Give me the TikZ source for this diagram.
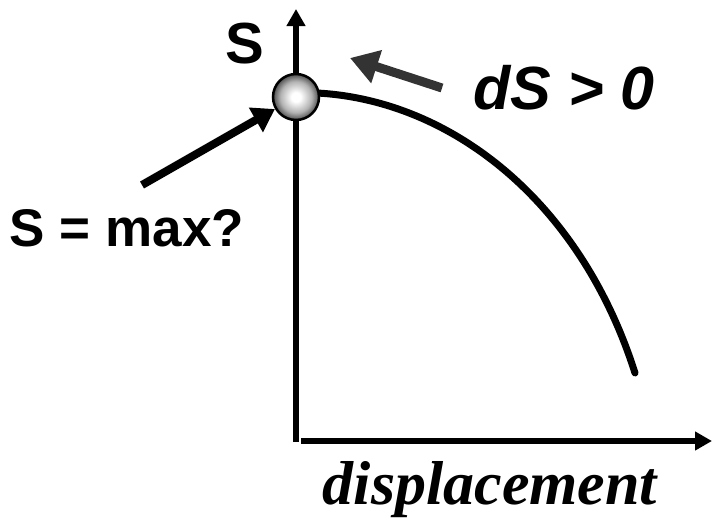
\documentclass[tikz,border=0pt]{standalone}
\usepackage{fontspec}
\setmainfont{Liberation Serif}
\setsansfont{Liberation Sans}
\usetikzlibrary{arrows.meta, positioning}
\definecolor{pushGray}{HTML}{333333}
\pgfdeclareradialshading{bead}{\pgfpoint{0bp}{0bp}}{color(0bp)=(white); color(5bp)=(white);
  color(17bp)=(gray!60); color(25bp)=(black!70); color(50bp)=(black!70)}

\begin{document}
\begin{tikzpicture}[
    x=1pt, y=-1pt,
    axis/.style={line width=5.5pt, -{Triangle[length=17pt, width=18pt]}},
    curve/.style={line width=7pt, line cap=round},
    pointer/.style={line width=8pt, -{Triangle[length=22pt, width=27pt]}},
    push/.style={draw=pushGray, line width=9pt, -{Triangle[length=28pt, width=33pt]}, color=pushGray},
    bead/.style={circle, draw, line width=2.5pt, minimum size=46pt, inner sep=0pt,
                 shading=bead},
    label/.style={font=\sffamily\bfseries\fontsize{53}{58}\selectfont, inner sep=0pt},
    dlabel/.style={font=\sffamily\bfseries\itshape\fontsize{61}{66}\selectfont, inner sep=0pt},
    xlabel/.style={font=\rmfamily\bfseries\itshape\fontsize{62}{68}\selectfont, inner sep=0pt},
  ]
    \useasboundingbox (0,0) rectangle (712,522);

    % axes
    \coordinate (origin) at (296,442);
    \coordinate (ytop) at (296,9);
    \coordinate (xstart) at (301,441);
    \coordinate (xend) at (712,441);
    \draw[axis] (origin) -- (ytop);
    \draw[axis] (xstart) -- (xend);

    % entropy curve
    \coordinate (peak) at (296,97);
    \coordinate (low) at (635,373);
    \draw[curve] (peak) -- (317,93) .. controls (450,100) and (580,200) .. (low);
    \node[bead] (ball) at (peak) {};

    % labels
    \node[label, font=\sffamily\bfseries\fontsize{58}{64}\selectfont] (ylab) at (245,44) {S};
    \node[label] (maxlab) at (127,228) {S = max?};
    \node[dlabel] (dslab) at (564,88) {dS > 0};
    \node[xlabel] (xlab) at (490,490) {displacement};

    % arrows
    \coordinate (mtail) at (142,185);
    \draw[pointer] (mtail) -- (ball);
    \coordinate (ptail) at (442,88);
    \coordinate (ptip) at (350,58);
    \draw[push] (ptail) -- (ptip);
  \end{tikzpicture}
\end{document}
